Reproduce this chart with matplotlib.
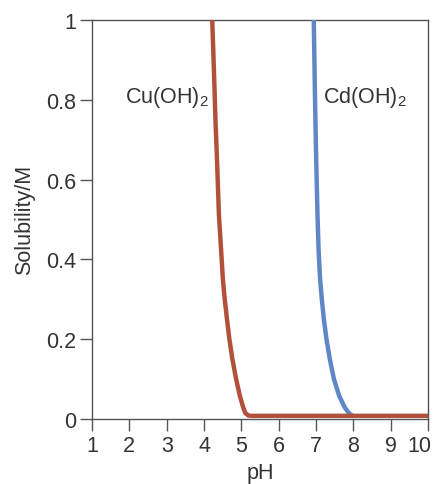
import matplotlib
matplotlib.use("Agg")
import matplotlib.pyplot as plt
import matplotlib.transforms as mtransforms

# values
cu_ph = [4.22, 4.27, 4.31, 4.34, 4.40, 4.46, 4.505, 4.555, 4.615, 4.68, 4.76,
         4.86, 4.96, 5.04, 5.10, 5.18, 5.25, 10.0]
cu_sol = [1.0, 0.86, 0.74, 0.67, 0.51, 0.42, 0.35, 0.30, 0.25, 0.20, 0.15,
          0.10, 0.058, 0.032, 0.016, 0.009, 0.008, 0.008]

cd_ph = [6.94, 6.97, 7.00, 7.04, 7.07, 7.11, 7.155, 7.21, 7.28, 7.37, 7.48,
         7.62, 7.77, 7.88, 7.97]
cd_sol = [1.0, 0.82, 0.67, 0.51, 0.42, 0.35, 0.30, 0.25, 0.20, 0.15, 0.10,
          0.058, 0.029, 0.015, 0.008]

x_ticks = [1, 2, 3, 4, 5, 6, 7, 8, 9, 10]
y_ticks = [0, 0.2, 0.4, 0.6, 0.8, 1]
y_tick_labels = ["0", "0.2", "0.4", "0.6", "0.8", "1"]

plt.rcParams["font.family"] = ["Liberation Sans", "DejaVu Sans"]
plt.rcParams["mathtext.fontset"] = "custom"
plt.rcParams["mathtext.rm"] = "Liberation Sans"
plt.rcParams["mathtext.it"] = "Liberation Sans"

TEXT = "#333333"
RED = "#b1513b"
BLUE = "#5f87c7"

fig = plt.figure(figsize=(4.33, 4.85), dpi=100)
ax = fig.add_axes([0.2125, 0.134, 0.776, 0.823])

ax.plot(cd_ph, cd_sol, color=BLUE, linewidth=3.2, solid_capstyle="butt",
        solid_joinstyle="round", zorder=3)
ax.plot(cu_ph, cu_sol, color=RED, linewidth=3.2, solid_capstyle="butt",
        solid_joinstyle="round", zorder=4)

ax.text(1.88, 0.807, r"Cu(OH)$_2$", fontsize=15.5, color=TEXT, va="center", ha="left")
ax.text(7.18, 0.807, r"Cd(OH)$_2$", fontsize=15.5, color=TEXT, va="center", ha="left")

ax.set_xlim(1, 10)
ax.set_ylim(0, 1)
ax.set_xticks(x_ticks)
ax.set_yticks(y_ticks)
ax.set_yticklabels(y_tick_labels)
ax.tick_params(axis="both", direction="out", length=8.5, width=1, color="#555555",
               labelsize=15.5, labelcolor=TEXT, pad=3)
for s in ax.spines.values():
    s.set_color("#555555")
    s.set_linewidth(1)

# last x label sits a little to the left so it stays inside the figure
last = ax.get_xticklabels()[-1]
last.set_transform(last.get_transform() +
                   mtransforms.ScaledTranslation(-6 / 72, 0, fig.dpi_scale_trans))

ax.set_xlabel("pH", fontsize=15.5, color=TEXT, labelpad=4)
ax.set_ylabel("Solubility/M", fontsize=15.5, color=TEXT, labelpad=8)

fig.savefig("out.png", dpi=100, facecolor="white")
